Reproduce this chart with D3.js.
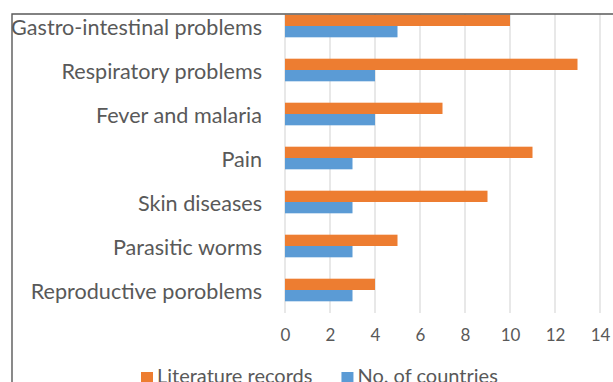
<!DOCTYPE html>
<html>
<head>
<meta charset="utf-8">
<script src="https://cdn.jsdelivr.net/npm/d3@7"></script>
<style>
  body { margin: 0; background: #fff; }
  svg { display: block; }
  text { font-family: Lato, "Open Sans", sans-serif; fill: #595959; }
</style>
</head>
<body>
<div id="chart"></div>
<script>

// categories, top to bottom
var categories = ["Gastro-intestinal problems", "Respiratory problems", "Fever and malaria",
                  "Pain", "Skin diseases", "Parasitic worms", "Reproductive poroblems"];

var literatureRecords = [10, 13, 7, 11, 9, 5, 4];
var noOfCountries     = [5, 4, 4, 3, 3, 3, 3];

var seriesNames  = ["Literature records", "No. of countries"];
var seriesColors = ["#ED7D31", "#5B9BD5"];
var xTicks = [0, 2, 4, 6, 8, 10, 12, 14];

//====================================================================================

var width = 613, height = 382;

var svg = d3.select("#chart").append("svg")
    .attr("width", width)
    .attr("height", height);

var x = d3.scaleLinear().domain([0, 14]).range([285, 600]);

var y = d3.scaleBand()
    .domain(categories)
    .range([4, 312])
    .paddingInner(0.486)
    .paddingOuter(0.243);

var ySub = d3.scaleBand()
    .domain(seriesNames)
    .range([0, y.bandwidth()]);

// clip everything above the frame top
svg.append("clipPath").attr("id", "plotclip")
  .append("rect").attr("x", 0).attr("y", 14).attr("width", width).attr("height", height);

var plot = svg.append("g").attr("clip-path", "url(#plotclip)");

// gridlines
plot.selectAll("line.grid")
    .data(xTicks)
    .enter().append("line")
    .attr("class", "grid")
    .attr("x1", function(d){ return x(d); })
    .attr("x2", function(d){ return x(d); })
    .attr("y1", 4)
    .attr("y2", 313)
    .attr("stroke", "#d9d9d9")
    .attr("stroke-width", 1.2);

// bars
var rows = categories.map(function(c, i){
    return { cat: c, values: [literatureRecords[i], noOfCountries[i]] };
});

var group = plot.selectAll("g.row")
    .data(rows)
    .enter().append("g")
    .attr("class", "row")
    .attr("transform", function(d){ return "translate(0," + y(d.cat) + ")"; });

group.selectAll("rect")
    .data(function(d){
        return d.values.map(function(v, k){ return { name: seriesNames[k], value: v, k: k }; });
    })
    .enter().append("rect")
    .attr("x", x(0))
    .attr("y", function(d){ return ySub(d.name); })
    .attr("width", function(d){ return x(d.value) - x(0); })
    .attr("height", ySub.bandwidth())
    .attr("fill", function(d){ return seriesColors[d.k]; });

// category labels
svg.selectAll("text.cat")
    .data(categories)
    .enter().append("text")
    .attr("class", "cat")
    .attr("x", 262)
    .attr("y", function(d){ return y(d) + y.bandwidth() / 2 + 9; })
    .attr("text-anchor", "end")
    .style("font-size", "21.6px")
    .text(function(d){ return d; });

// x axis tick labels
var xAxis = d3.axisBottom(x).tickValues(xTicks).tickSize(0).tickPadding(0);
var axisG = svg.append("g")
    .attr("transform", "translate(0,324)")
    .call(xAxis);
axisG.select(".domain").remove();
axisG.selectAll("text")
    .attr("dy", null)
    .attr("y", 17)
    .style("font-size", "17px")
    .style("font-family", "Lato, 'Open Sans', sans-serif")
    .attr("fill", "#595959");

// frame (left and top edges visible)
svg.append("path")
    .attr("d", "M12," + height + " L12,14 L" + width + ",14")
    .attr("fill", "none")
    .attr("stroke", "#595959")
    .attr("stroke-width", 1.4);

// legend
var legend = svg.append("g").attr("class", "legend");
var lx = 141;
seriesNames.forEach(function(name, k){
    legend.append("rect")
        .attr("x", lx).attr("y", 372)
        .attr("width", 12).attr("height", 12)
        .attr("fill", seriesColors[k]);
    var t = legend.append("text")
        .attr("x", lx + 16).attr("y", 383)
        .style("font-size", "20px")
        .text(name);
    lx = lx + 16 + t.node().getComputedTextLength() + 29;
});

</script>
</body>
</html>
